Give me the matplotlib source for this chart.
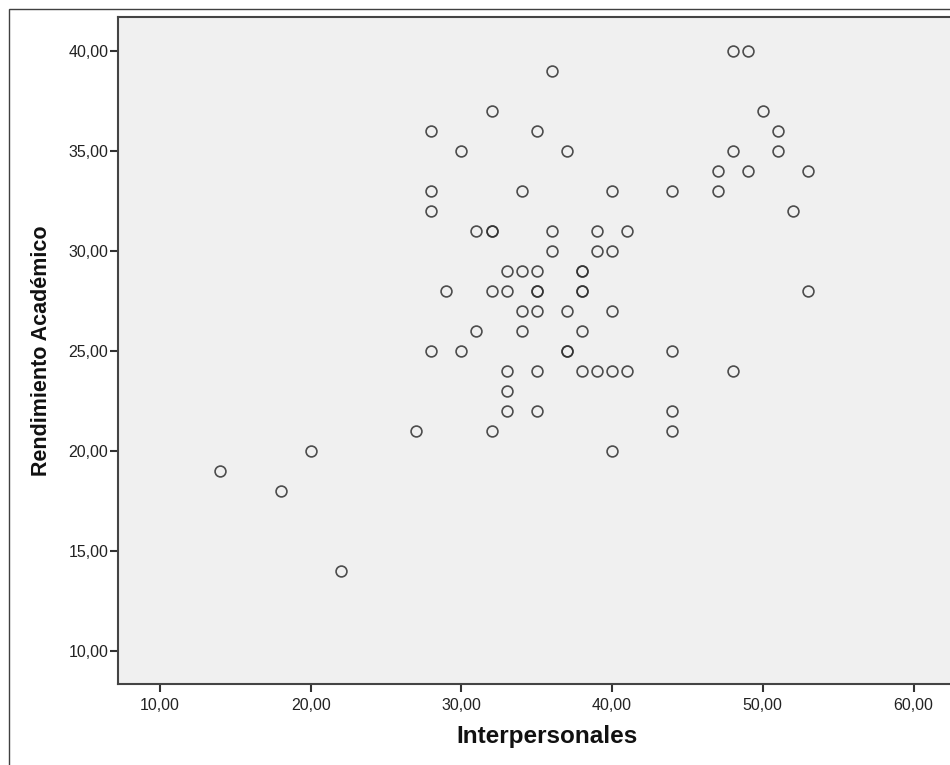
import matplotlib.pyplot as plt
from matplotlib.patches import Rectangle

# Interpersonales (x) vs Rendimiento Academico (y)
interpersonales = [14, 18, 20, 22, 27, 28, 28, 28, 28, 29, 30, 30, 31, 31,
                   32, 32, 32, 32, 32, 33, 33, 33, 33, 33, 34, 34, 34, 34,
                   35, 35, 35, 35, 35, 35, 35, 36, 36, 36, 37, 37, 37, 37,
                   38, 38, 38, 38, 38, 38, 39, 39, 39, 40, 40, 40, 40, 40,
                   41, 41, 44, 44, 44, 44, 47, 47, 48, 48, 48, 49, 49, 50,
                   51, 51, 52, 53, 53]
rendimiento = [19, 18, 20, 14, 21, 36, 33, 32, 25, 28, 35, 25, 31, 26,
               37, 31, 31, 28, 21, 29, 28, 24, 23, 22, 33, 29, 27, 26,
               36, 29, 28, 28, 27, 24, 22, 39, 31, 30, 35, 27, 25, 25,
               29, 29, 28, 28, 26, 24, 31, 30, 24, 33, 30, 27, 24, 20,
               31, 24, 33, 25, 22, 21, 34, 33, 40, 35, 24, 40, 34, 37,
               36, 35, 32, 34, 28]

xticks = [10, 20, 30, 40, 50, 60]
yticks = [10, 15, 20, 25, 30, 35, 40]

plt.rcParams['font.family'] = ['Liberation Sans', 'DejaVu Sans']

W, H = 950, 765
fig = plt.figure(figsize=(W / 100, H / 100), dpi=100, facecolor='white')

# outer frame (only left and top edges fall inside the picture)
fig.patches.append(Rectangle((9 / W, -0.1), 1.2, 1 - 9 / H + 0.1,
                             transform=fig.transFigure, fill=False,
                             edgecolor='#404040', linewidth=1.0))

ax = fig.add_axes([118 / W, 1 - 684 / H, 860 / W, 667 / H])
ax.set_facecolor('#f0f0f0')

ax.plot(interpersonales, rendimiento, linestyle='none', marker='o',
        markersize=7.8, markerfacecolor='none', markeredgecolor='#303030',
        markeredgewidth=1.2, alpha=0.85)

# x: 10 at px 160, 15.07 px per unit; y: 40 at px 51, 20 px per unit
ax.set_xlim(10 - 42 / 15.07, 10 + 818 / 15.07)
ax.set_ylim(40 - 633 / 20, 40 + 34 / 20)

ax.set_xticks(xticks)
ax.set_yticks(yticks)
ax.set_xticklabels([f'{v},00' for v in xticks])
ax.set_yticklabels([f'{v},00' for v in yticks])
ax.tick_params(direction='out', length=6, width=1.5, color='#333333',
               labelsize=11.5, labelcolor='#222222')
ax.tick_params(axis='x', pad=4)
ax.tick_params(axis='y', pad=1)

for side in ['left', 'bottom', 'top', 'right']:
    ax.spines[side].set_color('#444444')
    ax.spines[side].set_linewidth(1.5)

ax.set_xlabel('Interpersonales', fontsize=17.5, fontweight='bold',
              color='#111111', va='center')
ax.set_ylabel('Rendimiento Académico', fontsize=15.5, fontweight='bold',
              color='#111111', va='center')
ax.xaxis.set_label_coords(547 / W, 1 - 737 / H, transform=fig.transFigure)
ax.yaxis.set_label_coords(42 / W, 1 - 351 / H, transform=fig.transFigure)

fig.savefig('out.png', dpi=100, facecolor='white')
